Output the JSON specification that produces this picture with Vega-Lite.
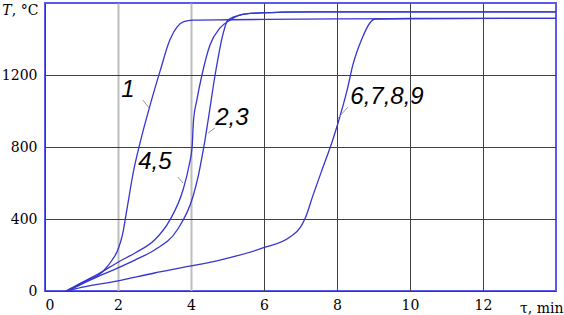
{
  "$schema": "https://vega.github.io/schema/vega-lite/v6.json",
  "width": 511,
  "height": 288,
  "autosize": {"type": "none"},
  "padding": {"left": 45, "top": 3, "right": 8, "bottom": 24},
  "background": "white",
  "config": {
    "view": {"stroke": "#5a5aee", "strokeWidth": 2},
    "axis": {"labelFont": "DejaVu Serif", "labelFontSize": 14, "labelColor": "black", "titleFont": "DejaVu Serif", "titleFontSize": 14, "titleFontWeight": "normal", "titleColor": "black", "domain": false, "ticks": false, "format": "d"}
  },
  "datasets": {
    "curves": [
      {"curve": "1", "x": 0.57, "T": 0}, {"curve": "1", "x": 1.0, "T": 45}, {"curve": "1", "x": 1.59, "T": 110}, {"curve": "1", "x": 1.85, "T": 175}, {"curve": "1", "x": 2.0, "T": 230}, {"curve": "1", "x": 2.12, "T": 310}, {"curve": "1", "x": 2.25, "T": 460}, {"curve": "1", "x": 2.41, "T": 650}, {"curve": "1", "x": 2.6, "T": 820}, {"curve": "1", "x": 2.88, "T": 1033}, {"curve": "1", "x": 3.15, "T": 1220}, {"curve": "1", "x": 3.42, "T": 1394}, {"curve": "1", "x": 3.62, "T": 1467}, {"curve": "1", "x": 3.8, "T": 1496}, {"curve": "1", "x": 4.05, "T": 1505}, {"curve": "1", "x": 5.07, "T": 1507}, {"curve": "1", "x": 8.0, "T": 1512}, {"curve": "1", "x": 14.0, "T": 1515},
      {"curve": "4,5", "x": 0.6, "T": 0}, {"curve": "4,5", "x": 1.0, "T": 45}, {"curve": "4,5", "x": 1.5, "T": 100}, {"curve": "4,5", "x": 2.0, "T": 160}, {"curve": "4,5", "x": 2.5, "T": 215}, {"curve": "4,5", "x": 3.0, "T": 283}, {"curve": "4,5", "x": 3.42, "T": 394}, {"curve": "4,5", "x": 3.78, "T": 561}, {"curve": "4,5", "x": 3.95, "T": 700}, {"curve": "4,5", "x": 4.03, "T": 800}, {"curve": "4,5", "x": 4.07, "T": 950}, {"curve": "4,5", "x": 4.16, "T": 1061}, {"curve": "4,5", "x": 4.3, "T": 1200}, {"curve": "4,5", "x": 4.52, "T": 1367}, {"curve": "4,5", "x": 4.79, "T": 1460}, {"curve": "4,5", "x": 5.07, "T": 1505}, {"curve": "4,5", "x": 5.34, "T": 1533}, {"curve": "4,5", "x": 5.8, "T": 1544}, {"curve": "4,5", "x": 6.5, "T": 1549}, {"curve": "4,5", "x": 7.3, "T": 1551}, {"curve": "4,5", "x": 14.0, "T": 1551},
      {"curve": "2,3", "x": 0.65, "T": 0}, {"curve": "2,3", "x": 1.0, "T": 38}, {"curve": "2,3", "x": 1.5, "T": 85}, {"curve": "2,3", "x": 2.0, "T": 128}, {"curve": "2,3", "x": 2.6, "T": 185}, {"curve": "2,3", "x": 3.0, "T": 228}, {"curve": "2,3", "x": 3.62, "T": 339}, {"curve": "2,3", "x": 4.05, "T": 522}, {"curve": "2,3", "x": 4.2, "T": 640}, {"curve": "2,3", "x": 4.3, "T": 744}, {"curve": "2,3", "x": 4.36, "T": 810}, {"curve": "2,3", "x": 4.47, "T": 950}, {"curve": "2,3", "x": 4.66, "T": 1200}, {"curve": "2,3", "x": 4.88, "T": 1430}, {"curve": "2,3", "x": 5.01, "T": 1505}, {"curve": "2,3", "x": 5.34, "T": 1533}, {"curve": "2,3", "x": 5.8, "T": 1544}, {"curve": "2,3", "x": 6.5, "T": 1549}, {"curve": "2,3", "x": 7.3, "T": 1551}, {"curve": "2,3", "x": 14.0, "T": 1551},
      {"curve": "6,7,8,9", "x": 0.6, "T": 0}, {"curve": "6,7,8,9", "x": 1.0, "T": 20}, {"curve": "6,7,8,9", "x": 2.0, "T": 56}, {"curve": "6,7,8,9", "x": 3.0, "T": 100}, {"curve": "6,7,8,9", "x": 4.0, "T": 139}, {"curve": "6,7,8,9", "x": 4.79, "T": 172}, {"curve": "6,7,8,9", "x": 5.97, "T": 239}, {"curve": "6,7,8,9", "x": 6.71, "T": 300}, {"curve": "6,7,8,9", "x": 7.0, "T": 355}, {"curve": "6,7,8,9", "x": 7.14, "T": 410}, {"curve": "6,7,8,9", "x": 7.34, "T": 530}, {"curve": "6,7,8,9", "x": 7.62, "T": 690}, {"curve": "6,7,8,9", "x": 7.86, "T": 825}, {"curve": "6,7,8,9", "x": 8.03, "T": 935}, {"curve": "6,7,8,9", "x": 8.27, "T": 1110}, {"curve": "6,7,8,9", "x": 8.44, "T": 1260}, {"curve": "6,7,8,9", "x": 8.68, "T": 1400}, {"curve": "6,7,8,9", "x": 8.9, "T": 1489}, {"curve": "6,7,8,9", "x": 9.04, "T": 1511}, {"curve": "6,7,8,9", "x": 10.0, "T": 1514}, {"curve": "6,7,8,9", "x": 14.0, "T": 1515}
    ],
    "labels": [
      {"label": "1", "x": 2.27, "T": 1117, "lx1": 2.68, "lT1": 1061, "lx2": 2.85, "lT2": 1017},
      {"label": "4,5", "x": 3.01, "T": 717, "lx1": 3.64, "lT1": 633, "lx2": 3.78, "lT2": 600},
      {"label": "2,3", "x": 5.12, "T": 961, "lx1": 4.66, "lT1": 906, "lx2": 4.47, "lT2": 878},
      {"label": "6,7,8,9", "x": 9.37, "T": 1078, "lx1": 8.3, "lT1": 1022, "lx2": 8.03, "lT2": 961}
    ]
  },
  "layer": [
    {
      "data": {"name": "curves"},
      "mark": {"type": "line", "color": "#3535d0", "strokeWidth": 1.3, "clip": true, "interpolate": "monotone"},
      "encoding": {
        "x": {"field": "x", "type": "quantitative", "scale": {"domain": [0, 14], "nice": false},
          "axis": {"values": [0, 2, 4, 6, 8, 10, 12], "labelPadding": 7, "title": "τ, min", "titleAnchor": "end", "titleAlign": "right", "titleBaseline": "alphabetic", "titleX": 518, "titleY": 21,
            "gridColor": {"condition": {"test": "datum.value > 0 && datum.value <= 4", "value": "#bdbdbd"}, "value": "#404040"},
            "gridWidth": {"condition": {"test": "datum.value > 0 && datum.value <= 4", "value": 2}, "value": 1}}},
        "y": {"field": "T", "type": "quantitative", "scale": {"domain": [0, 1600], "nice": false},
          "axis": {"values": [0, 400, 800, 1200], "labelPadding": 8, "gridColor": "#404040", "gridWidth": 1, "title": null}},
        "detail": {"field": "curve"}
      }
    },
    {
      "data": {"name": "labels"},
      "mark": {"type": "rule", "color": "#999999", "strokeWidth": 1},
      "encoding": {
        "x": {"field": "lx1", "type": "quantitative"},
        "y": {"field": "lT1", "type": "quantitative"},
        "x2": {"field": "lx2"},
        "y2": {"field": "lT2"}
      }
    },
    {
      "data": {"name": "labels"},
      "mark": {"type": "text", "font": "Liberation Sans", "fontStyle": "italic", "fontSize": 24, "color": "black", "align": "center", "baseline": "middle"},
      "encoding": {
        "x": {"field": "x", "type": "quantitative"},
        "y": {"field": "T", "type": "quantitative"},
        "text": {"field": "label"}
      }
    },
    {
      "data": {"values": [{}]},
      "mark": {"type": "text", "font": "DejaVu Serif", "fontStyle": "italic", "fontSize": 14, "color": "black", "align": "left", "baseline": "middle", "clip": false},
      "encoding": {
        "x": {"datum": -1.17, "type": "quantitative"},
        "y": {"datum": 1555, "type": "quantitative"},
        "text": {"value": "T"}
      }
    },
    {
      "data": {"values": [{}]},
      "mark": {"type": "text", "font": "DejaVu Serif", "fontSize": 14, "color": "black", "align": "left", "baseline": "middle", "clip": false},
      "encoding": {
        "x": {"datum": -0.91, "type": "quantitative"},
        "y": {"datum": 1555, "type": "quantitative"},
        "text": {"value": ", °C"}
      }
    }
  ]
}
